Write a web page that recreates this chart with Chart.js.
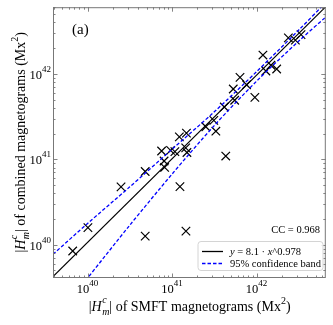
<!DOCTYPE html>
<html lang="en">
<head>
<meta charset="UTF-8">
<title>Hm comparison</title>
<script src="https://cdn.jsdelivr.net/npm/chart.js@4.4.0/dist/chart.umd.min.js"></script>
<style>
  body { margin: 0; background: #fff; }
</style>
</head>
<body>
<canvas id="myChart" width="333" height="325"></canvas>
<script>
    // |Hm^c| of SMFT (x) vs combined (y) magnetograms, Mx^2
    const smft = [6.67e39, 1.01e40, 2.49e40, 4.81e40, 4.81e40, 7.52e40, 8.05e40, 8.17e40, 9.6e40, 1.08e41,
        1.22e41, 1.48e41, 1.45e41, 1.50e41, 1.24e41, 1.46e41, 2.51e41, 3.12e41, 3.30e41, 4.15e41,
        4.32e41, 5.30e41, 5.51e41, 6.37e41, 7.62e41, 9.55e41, 1.19e42, 1.29e42, 1.48e42, 1.73e42,
        2.38e42, 2.88e42, 3.36e42];
    const combined = [8.43e39, 1.58e40, 4.74e40, 7.18e40, 1.26e40, 1.25e41, 9.55e40, 8.04e40, 1.27e41, 1.23e41,
        1.83e41, 2.02e41, 1.36e41, 1.20e41, 4.78e40, 1.44e40, 2.40e41, 2.85e41, 2.13e41, 4.09e41,
        1.09e41, 6.65e41, 4.91e41, 9.10e41, 7.46e41, 5.31e41, 1.66e42, 1.08e42, 1.26e42, 1.14e42,
        2.64e42, 2.48e42, 2.88e42];

    // fitted line and 95% band
    const fitX = [3.9e39, 6.6e42];
    const fitY = [4.24e39, 6.11e42];
    const upperX = [3.9e39, 1e40, 3.16e40, 1e41, 3.16e41, 1e42, 3.16e42, 6.6e42];
    const upperY = [7.71e39, 1.77e40, 4.75e40, 1.31e41, 3.59e41, 1.06e42, 3.26e42, 6.85e42];
    const lowerX = [7.9e39, 1e40, 3.16e40, 1e41, 3.16e41, 1e42, 3.16e42, 6.6e42];
    const lowerY = [3.02e39, 4.06e39, 1.69e40, 6.70e40, 2.48e41, 8.20e41, 2.42e42, 4.63e42];

    const majorTicks = [1e40, 1e41, 1e42];
    const tickExps = ['40', '41', '42'];
    const ccLabel = 'CC = 0.968';
    const fitLabel = ['y', ' = 8.1 \u00b7 ', 'x', '^0.978'];
    const bandLabel = '95% confidence band';

    const SERIF = "'Liberation Serif', 'Times New Roman', serif";

    function toXY(xs, ys) {
        return xs.map((x, i) => ({ x: x, y: ys[i] }));
    }

    function partWidth(ctx, p) {
        ctx.font = p.f;
        if (p.sub !== undefined) return Math.max(ctx.measureText(p.sup).width, ctx.measureText(p.sub).width);
        return ctx.measureText(p.t).width;
    }

    function drawRich(ctx, parts, x, y, align) {
        let w = 0;
        parts.forEach(p => w += partWidth(ctx, p));
        let cx = align === 'center' ? x - w / 2 : align === 'right' ? x - w : x;
        ctx.textAlign = 'left';
        ctx.textBaseline = 'alphabetic';
        parts.forEach(p => {
            const pw = partWidth(ctx, p);
            ctx.font = p.f;
            if (p.sub !== undefined) {
                ctx.fillText(p.sup, cx, y + p.supDy);
                ctx.fillText(p.sub, cx, y + p.subDy);
            } else {
                ctx.fillText(p.t, cx, y + (p.dy || 0));
            }
            cx += pw + (p.gap || 0);
        });
    }

    function titleParts(middle) {
        return [
            { t: '|', f: `14px ${SERIF}` },
            { t: 'H', f: `italic 14px ${SERIF}`, gap: 0.5 },
            { sup: 'c', sub: 'm', f: `italic 10px ${SERIF}`, supDy: -8, subDy: 4 },
            { t: '| ' + middle + ' (Mx', f: `14px ${SERIF}` },
            { t: '2', f: `10px ${SERIF}`, dy: -7 },
            { t: ')', f: `14px ${SERIF}` }
        ];
    }

    const decorations = {
        id: 'decorations',
        afterDatasetsDraw(chart) {
            const ctx = chart.ctx;
            const area = chart.chartArea;
            const xs = chart.scales.x, ys = chart.scales.y;
            ctx.save();

            // ticks on all four sides, pointing in
            ctx.strokeStyle = '#666';
            ctx.lineWidth = 0.8;
            ctx.beginPath();
            for (let e = 39; e <= 42; e++) {
                for (let m = 1; m <= 9; m++) {
                    const v = m * Math.pow(10, e);
                    const len = m === 1 ? 4.5 : 2.5;
                    if (v >= xs.min && v <= xs.max) {
                        const px = Math.round(xs.getPixelForValue(v)) + 0.5;
                        ctx.moveTo(px, area.bottom); ctx.lineTo(px, area.bottom - len);
                        ctx.moveTo(px, area.top); ctx.lineTo(px, area.top + len);
                    }
                    if (v >= ys.min && v <= ys.max) {
                        const py = Math.round(ys.getPixelForValue(v)) + 0.5;
                        ctx.moveTo(area.left, py); ctx.lineTo(area.left + len, py);
                        ctx.moveTo(area.right, py); ctx.lineTo(area.right - len, py);
                    }
                }
            }
            ctx.stroke();

            // frame
            ctx.strokeStyle = '#777';
            ctx.lineWidth = 1;
            ctx.strokeRect(area.left + 0.5, area.top + 0.5, area.right - area.left - 1, area.bottom - area.top - 1);

            // tick labels
            ctx.fillStyle = '#000';
            majorTicks.forEach((v, i) => {
                const parts = [
                    { t: '10', f: `12.5px ${SERIF}` },
                    { t: tickExps[i], f: `9px ${SERIF}`, dy: -7 }
                ];
                drawRich(ctx, parts, xs.getPixelForValue(v), area.bottom + 15, 'center');
                drawRich(ctx, parts, area.left - 2, ys.getPixelForValue(v) + 5, 'right');
            });

            // axis titles
            drawRich(ctx, titleParts('of SMFT magnetograms'), (area.left + area.right) / 2, 311, 'center');
            ctx.save();
            ctx.translate(25, (area.top + area.bottom) / 2);
            ctx.rotate(-Math.PI / 2);
            drawRich(ctx, titleParts('of combined magnetograms'), 0, 0, 'center');
            ctx.restore();

            // panel tag and correlation
            ctx.font = `15px ${SERIF}`;
            ctx.textAlign = 'left';
            ctx.fillText('(a)', 72, 34);
            ctx.font = `10.5px ${SERIF}`;
            ctx.textAlign = 'right';
            ctx.textBaseline = 'middle';
            ctx.fillText(ccLabel, 320, 230);

            // legend box
            const bx = 198, by = 241.5, bw = 125, bh = 29, r = 3;
            ctx.beginPath();
            ctx.moveTo(bx + r, by);
            ctx.arcTo(bx + bw, by, bx + bw, by + bh, r);
            ctx.arcTo(bx + bw, by + bh, bx, by + bh, r);
            ctx.arcTo(bx, by + bh, bx, by, r);
            ctx.arcTo(bx, by, bx + bw, by, r);
            ctx.closePath();
            ctx.fillStyle = 'rgba(255,255,255,0.85)';
            ctx.fill();
            ctx.strokeStyle = '#d4d4d4';
            ctx.lineWidth = 1;
            ctx.stroke();

            ctx.lineWidth = 1.3;
            ctx.strokeStyle = '#000';
            ctx.beginPath(); ctx.moveTo(202, 251.5); ctx.lineTo(223, 251.5); ctx.stroke();
            ctx.strokeStyle = '#0000ff';
            ctx.setLineDash([3.5, 2]);
            ctx.beginPath(); ctx.moveTo(202, 263.5); ctx.lineTo(223, 263.5); ctx.stroke();
            ctx.setLineDash([]);

            ctx.fillStyle = '#000';
            drawRich(ctx, [
                { t: fitLabel[0], f: `italic 10.5px ${SERIF}` },
                { t: fitLabel[1], f: `10.5px ${SERIF}` },
                { t: fitLabel[2], f: `italic 10.5px ${SERIF}` },
                { t: fitLabel[3], f: `10.5px ${SERIF}` }
            ], 230, 255, 'left');
            ctx.font = `10.5px ${SERIF}`;
            ctx.fillText(bandLabel, 230, 267);

            ctx.restore();
        }
    };

    const ctx = document.getElementById('myChart').getContext('2d');
    const chart = new Chart(ctx, {
        type: 'scatter',
        data: {
            datasets: [
                {
                    label: 'band upper',
                    type: 'line',
                    data: toXY(upperX, upperY),
                    borderColor: '#0000ff',
                    borderWidth: 1.3,
                    borderDash: [3.5, 2],
                    pointRadius: 0,
                    tension: 0.3,
                    fill: false
                },
                {
                    label: 'band lower',
                    type: 'line',
                    data: toXY(lowerX, lowerY),
                    borderColor: '#0000ff',
                    borderWidth: 1.3,
                    borderDash: [3.5, 2],
                    pointRadius: 0,
                    tension: 0.3,
                    fill: false
                },
                {
                    label: 'fit',
                    type: 'line',
                    data: toXY(fitX, fitY),
                    borderColor: '#000',
                    borderWidth: 1.2,
                    pointRadius: 0,
                    fill: false
                },
                {
                    label: 'events',
                    data: toXY(smft, combined),
                    pointStyle: 'crossRot',
                    pointRadius: 6,
                    borderColor: '#000',
                    borderWidth: 1.2,
                    backgroundColor: '#000'
                }
            ]
        },
        options: {
            responsive: false,
            animation: false,
            layout: { padding: { left: 53, top: 5, right: 6, bottom: 47 } },
            plugins: {
                legend: { display: false },
                tooltip: { enabled: false }
            },
            scales: {
                x: {
                    type: 'logarithmic',
                    display: false,
                    min: 3.9e39,
                    max: 6.6e42
                },
                y: {
                    type: 'logarithmic',
                    display: false,
                    min: 4.07e39,
                    max: 6.03e42
                }
            }
        },
        plugins: [decorations]
    });
</script>
</body>
</html>
